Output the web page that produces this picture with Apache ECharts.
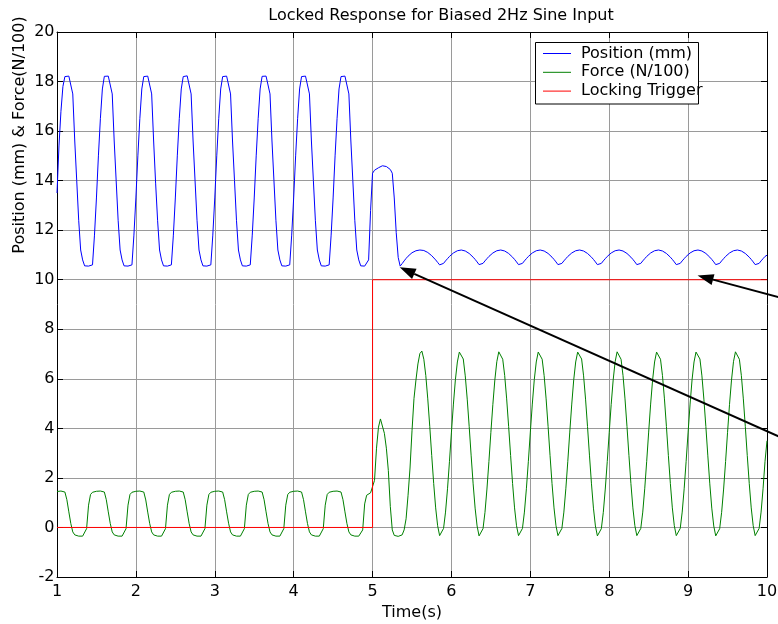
<!DOCTYPE html>
<html>
<head>
<meta charset="utf-8">
<script src="https://cdn.jsdelivr.net/npm/echarts@6/dist/echarts.min.js"></script>
<style>
html,body{margin:0;padding:0;background:#fff;}
#main{width:778px;height:624px;}
</style>
</head>
<body>
<div id="main"></div>
<script>
// ---- sampling of the recorded signals (s) ----
const sampleStart = 1;
const sampleStep = 0.025;

// Position (mm), 1.000 s .. 4.975 s
const positionBefore = [
  13.5, 15.4, 16.8, 17.8, 18.2, 18.24, 18.22, 18.15, 17.5, 15.6, 14.0, 12.4, 11.2, 10.8, 10.56, 10.55, 10.55, 10.55, 10.6, 11.8,
  13.3, 15.0, 16.5, 17.7, 18.21, 18.24, 18.22, 18.14, 17.5, 15.6, 14.0, 12.4, 11.2, 10.8, 10.56, 10.55, 10.55, 10.55, 10.6, 11.8,
  13.3, 15.0, 16.5, 17.7, 18.2, 18.24, 18.22, 18.15, 17.5, 15.6, 13.9, 12.4, 11.2, 10.8, 10.56, 10.55, 10.55, 10.55, 10.6, 11.8,
  13.3, 15.0, 16.5, 17.7, 18.2, 18.24, 18.23, 18.15, 17.5, 15.6, 14.0, 12.4, 11.2, 10.8, 10.56, 10.55, 10.55, 10.55, 10.6, 11.8,
  13.3, 15.0, 16.5, 17.7, 18.2, 18.24, 18.22, 18.15, 17.5, 15.6, 14.0, 12.4, 11.2, 10.8, 10.56, 10.55, 10.55, 10.55, 10.6, 11.8,
  13.3, 15.0, 16.5, 17.7, 18.21, 18.24, 18.22, 18.15, 17.5, 15.6, 14.0, 12.4, 11.2, 10.8, 10.56, 10.55, 10.55, 10.55, 10.6, 11.8,
  13.3, 15.0, 16.5, 17.7, 18.2, 18.24, 18.22, 18.15, 17.5, 15.6, 14.0, 12.4, 11.2, 10.8, 10.56, 10.55, 10.55, 10.55, 10.6, 11.8,
  13.3, 15.0, 16.5, 17.7, 18.2, 18.24, 18.22, 18.15, 17.5, 15.6, 14.0, 12.4, 11.2, 10.8, 10.56, 10.55, 10.55, 10.55, 10.8, 12.8
];

// Position (mm), 5.000 s .. 10.000 s
const positionAfter = [
  14.3, 14.42, 14.48, 14.52, 14.56, 14.6, 14.6, 14.57, 14.52, 14.45, 14.3, 13.3, 11.9, 10.9, 10.55,
  10.65, 10.76, 10.86, 10.95, 11.03, 11.09, 11.14, 11.17, 11.19, 11.2, 11.2, 11.18, 11.15, 11.1, 11.04, 10.97, 10.89, 10.8, 10.7, 10.6,
  10.53, 10.66, 10.76, 10.85, 10.94, 11.02, 11.08, 11.14, 11.17, 11.19, 11.2, 11.19, 11.16, 11.12, 11.06, 10.99, 10.91, 10.82, 10.72, 10.61,
  10.53, 10.66, 10.76, 10.85, 10.94, 11.02, 11.08, 11.14, 11.17, 11.19, 11.2, 11.19, 11.16, 11.12, 11.06, 10.99, 10.91, 10.82, 10.72, 10.61,
  10.53, 10.66, 10.76, 10.85, 10.94, 11.02, 11.08, 11.14, 11.17, 11.19, 11.2, 11.19, 11.16, 11.12, 11.06, 10.99, 10.91, 10.82, 10.72, 10.61,
  10.53, 10.66, 10.76, 10.85, 10.94, 11.02, 11.08, 11.14, 11.17, 11.19, 11.2, 11.19, 11.16, 11.12, 11.06, 10.99, 10.91, 10.82, 10.72, 10.61,
  10.53, 10.66, 10.76, 10.85, 10.94, 11.02, 11.08, 11.14, 11.17, 11.19, 11.2, 11.19, 11.16, 11.12, 11.06, 10.99, 10.91, 10.82, 10.72, 10.61,
  10.53, 10.66, 10.76, 10.85, 10.94, 11.02, 11.08, 11.14, 11.17, 11.19, 11.2, 11.19, 11.16, 11.12, 11.06, 10.99, 10.91, 10.82, 10.72, 10.61,
  10.53, 10.66, 10.76, 10.85, 10.94, 11.02, 11.08, 11.14, 11.17, 11.19, 11.2, 11.19, 11.16, 11.12, 11.06, 10.99, 10.91, 10.82, 10.72, 10.61,
  10.53, 10.66, 10.76, 10.85, 10.94, 11.02, 11.08, 11.14, 11.17, 11.19, 11.2, 11.19, 11.16, 11.12, 11.06, 10.99, 10.91, 10.82, 10.72, 10.61,
  10.53, 10.66, 10.76, 10.85, 10.94, 10.99
];

// Force (N/100), 1.000 s .. 4.975 s
const forceBefore = [
  1.45, 1.47, 1.47, 1.46, 1.43, 1.12, 0.63, 0.16, -0.18, -0.30, -0.34, -0.35, -0.35, -0.35, -0.33, -0.05, 0.90, 1.33, 1.42, 1.45,
  1.46, 1.47, 1.47, 1.46, 1.43, 1.12, 0.63, 0.16, -0.18, -0.30, -0.34, -0.35, -0.35, -0.35, -0.33, -0.05, 0.90, 1.33, 1.42, 1.45,
  1.46, 1.47, 1.47, 1.46, 1.43, 1.11, 0.62, 0.16, -0.18, -0.30, -0.34, -0.35, -0.35, -0.35, -0.33, -0.05, 0.90, 1.33, 1.42, 1.45,
  1.46, 1.47, 1.47, 1.46, 1.43, 1.12, 0.63, 0.16, -0.18, -0.30, -0.34, -0.35, -0.35, -0.35, -0.33, -0.05, 0.90, 1.33, 1.42, 1.45,
  1.46, 1.47, 1.47, 1.46, 1.43, 1.12, 0.63, 0.17, -0.18, -0.30, -0.34, -0.35, -0.35, -0.35, -0.33, -0.05, 0.90, 1.33, 1.42, 1.45,
  1.46, 1.47, 1.47, 1.46, 1.43, 1.12, 0.63, 0.16, -0.18, -0.30, -0.34, -0.35, -0.35, -0.35, -0.33, -0.05, 0.90, 1.33, 1.42, 1.45,
  1.46, 1.47, 1.47, 1.46, 1.43, 1.12, 0.63, 0.16, -0.18, -0.30, -0.34, -0.35, -0.35, -0.35, -0.33, -0.05, 0.90, 1.33, 1.42, 1.45,
  1.46, 1.47, 1.47, 1.46, 1.43, 1.12, 0.63, 0.16, -0.18, -0.30, -0.34, -0.35, -0.35, -0.35, -0.33, -0.10, 0.95, 1.30, 1.38, 1.40
];

// Force (N/100), 5.000 s .. 10.000 s
const forceAfter = [
  1.45, 1.9, 3.2, 4.05, 4.38, 4.3, 3.8, 3.2, 2.3, 0.85, -0.1, -0.32, -0.36, -0.36, -0.35, -0.3, -0.1, 0.35, 1.3, 2.4, 3.9, 5.2, 5.95, 6.6, 7.02,
  7.12, 6.79, 6.13, 5.19, 4.08, 2.90, 1.77, 0.79, 0.07, -0.33, -0.38, -0.04, 0.62, 1.56, 2.67, 3.85, 4.98, 5.96, 6.68, 7.08,
  7.14, 6.80, 6.12, 5.18, 4.07, 2.89, 1.76, 0.78, 0.06, -0.34, -0.38, -0.05, 0.61, 1.55, 2.66, 3.84, 4.97, 5.95, 6.69, 7.09,
  7.13, 6.79, 6.13, 5.19, 4.08, 2.90, 1.77, 0.79, 0.07, -0.33, -0.38, -0.04, 0.62, 1.56, 2.67, 3.85, 4.98, 5.96, 6.68, 7.08,
  7.12, 6.79, 6.13, 5.19, 4.08, 2.90, 1.77, 0.79, 0.07, -0.33, -0.38, -0.04, 0.62, 1.56, 2.67, 3.85, 4.98, 5.96, 6.68, 7.08,
  7.14, 6.80, 6.12, 5.18, 4.07, 2.89, 1.76, 0.78, 0.06, -0.34, -0.38, -0.05, 0.61, 1.55, 2.66, 3.84, 4.97, 5.95, 6.69, 7.09,
  7.13, 6.79, 6.13, 5.19, 4.08, 2.90, 1.77, 0.79, 0.07, -0.33, -0.38, -0.04, 0.62, 1.56, 2.67, 3.85, 4.98, 5.96, 6.68, 7.08,
  7.12, 6.79, 6.13, 5.19, 4.08, 2.90, 1.77, 0.79, 0.07, -0.33, -0.38, -0.04, 0.62, 1.56, 2.67, 3.85, 4.98, 5.96, 6.68, 7.08,
  7.13, 6.80, 6.12, 5.18, 4.07, 2.89, 1.76, 0.78, 0.06, -0.34, -0.38, -0.05, 0.61, 1.55, 2.66, 3.84, 4.97, 5.95, 6.69, 7.09,
  7.12, 6.79, 6.13, 5.19, 4.08, 2.90, 1.77, 0.79, 0.07, -0.33, -0.38, -0.04, 0.62, 1.56, 2.67, 3.5
];

// Locking trigger (step at 5 s)
const lockTimes = [1, 5, 5, 10];
const lockValues = [0, 0, 10, 10];

// Annotation arrows (data coordinates): tip and tail
const arrowTips = [[5.344, 10.50], [9.12, 10.17]];
const arrowTails = [[10.41, 3.30], [10.41, 9.07]];

const seriesNames = ['Position (mm)', 'Force (N/100)', 'Locking Trigger'];
const seriesColors = ['#0000ff', '#008000', '#ff0000'];
const titleText = 'Locked Response for Biased 2Hz Sine Input';
const xName = 'Time(s)';
const yName = 'Position (mm) & Force(N/100)';

// ---- build ----
const FONT = 'DejaVu Sans';
const position = positionBefore.concat(positionAfter);
const force = forceBefore.concat(forceAfter);
const time = position.map((_, i) => +(sampleStart + i * sampleStep).toFixed(3));
const posData = time.map((t, i) => [t, position[i]]);
const forceData = time.map((t, i) => [t, force[i]]);
const lockData = lockTimes.map((t, i) => [t, lockValues[i]]);

const chart = echarts.init(document.getElementById('main'), null, {renderer: 'canvas'});

const lineSeries = (name, data, color) => ({
  name, type: 'line', data, color,
  showSymbol: false, symbol: 'none',
  lineStyle: {color, width: 1},
  itemStyle: {color},
  silent: true, animation: false, z: 2
});

const axisCommon = {
  axisLine: {show: true, onZero: false, lineStyle: {color: '#000', width: 1}},
  axisTick: {show: true, inside: true, length: 6, lineStyle: {color: '#000', width: 1}}
};

chart.setOption({
  animation: false,
  backgroundColor: '#ffffff',
  color: seriesColors,
  title: {
    text: titleText, left: 441, top: 8, padding: 0,
    textAlign: 'center', textVerticalAlign: 'top',
    textStyle: {fontFamily: FONT, fontSize: 16, fontWeight: 'normal', color: '#000', lineHeight: 16}
  },
  grid: {left: 57, top: 32, right: 11, bottom: 47, containLabel: false, outerBoundsMode: 'none'},
  legend: {
    data: seriesNames, orient: 'vertical', left: 543, top: 43, padding: 0,
    itemGap: -2.2, itemWidth: 28, itemHeight: 1, icon: 'rect', selectedMode: false, z: 20,
    textStyle: {fontFamily: FONT, fontSize: 16, color: '#000', lineHeight: 16, padding: [5, 0, 0, 5]}
  },
  xAxis: [
    Object.assign({
      type: 'value', min: 1, max: 10, interval: 1, position: 'bottom',
      name: xName, nameLocation: 'middle', nameGap: 25,
      nameTextStyle: {fontFamily: FONT, fontSize: 16, color: '#000', lineHeight: 16},
      axisLabel: {color: '#000', fontFamily: FONT, fontSize: 16, margin: 7, lineHeight: 16},
      splitLine: {show: true, lineStyle: {color: '#9a9a9a', width: 1}}
    }, axisCommon),
    Object.assign({
      type: 'value', min: 1, max: 10, interval: 1, position: 'top',
      axisLabel: {show: false}, splitLine: {show: false}
    }, axisCommon)
  ],
  yAxis: [
    Object.assign({
      type: 'value', min: -2, max: 20, interval: 2, position: 'left',
      axisLabel: {color: '#000', fontFamily: FONT, fontSize: 16, margin: 2.5, lineHeight: 16, padding: [4, 0, 0, 0]},
      splitLine: {show: true, lineStyle: {color: '#9a9a9a', width: 1}}
    }, axisCommon),
    Object.assign({
      type: 'value', min: -2, max: 20, interval: 2, position: 'right',
      axisLabel: {show: false}, splitLine: {show: false}
    }, axisCommon)
  ],
  series: [
    lineSeries(seriesNames[0], posData, seriesColors[0]),
    lineSeries(seriesNames[1], forceData, seriesColors[1]),
    lineSeries(seriesNames[2], lockData, seriesColors[2])
  ]
});

// ---- annotations: legend box, y-axis label, arrows ----
const graphics = [
  {type: 'rect', z: 10, shape: {x: 535.5, y: 42.5, width: 163, height: 61.5},
   style: {fill: '#ffffff', stroke: '#000000', lineWidth: 1}},
  {type: 'text', z: 10, x: 20, y: 135, rotation: Math.PI / 2,
   style: {text: yName, fontFamily: FONT, fontSize: 16, fill: '#000', align: 'center', verticalAlign: 'middle',
           textAlign: 'center', textVerticalAlign: 'middle'}}
];
arrowTips.forEach((tipD, k) => {
  const tip = chart.convertToPixel({xAxisIndex: 0, yAxisIndex: 0}, tipD);
  const tail = chart.convertToPixel({xAxisIndex: 0, yAxisIndex: 0}, arrowTails[k]);
  const dx = tail[0] - tip[0], dy = tail[1] - tip[1];
  const len = Math.sqrt(dx * dx + dy * dy);
  const ux = dx / len, uy = dy / len;
  const L = 16, W = 5.5;
  const bx = tip[0] + ux * L, by = tip[1] + uy * L;
  graphics.push({type: 'line', z: 15, shape: {x1: bx, y1: by, x2: tail[0], y2: tail[1]},
                 style: {stroke: '#000', lineWidth: 2}});
  graphics.push({type: 'polygon', z: 15,
                 shape: {points: [tip, [bx - uy * W, by + ux * W], [bx + uy * W, by - ux * W]]},
                 style: {fill: '#000'}});
});
chart.setOption({graphic: graphics});
</script>
</body>
</html>
